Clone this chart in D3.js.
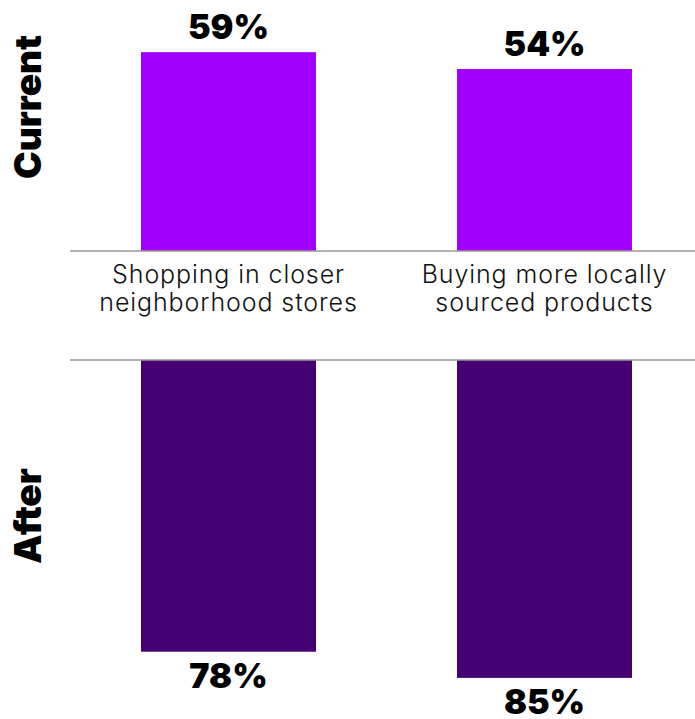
<!DOCTYPE html>
<html>
<head>
<meta charset="utf-8">
<script src="https://cdn.jsdelivr.net/npm/d3@7/dist/d3.min.js"></script>
<style>
  html, body { margin: 0; padding: 0; background: #fff; }
  svg { display: block; }
</style>
</head>
<body>
<svg id="chart" width="695" height="719"></svg>
<script>
// Share of respondents per behaviour, before and after
const categories = ["Shopping in closer neighborhood stores", "Buying more locally sourced products"];
const categoryLines = [["Shopping in closer", "neighborhood stores"], ["Buying more locally", "sourced products"]];
const currentValues = [59, 54];
const afterValues = [78, 85];
const panelTitles = ["Current", "After"];

const W = 695, H = 719;
const svg = d3.select("#chart");

const topBase = 251;
const bottomBase = 360;

const x = d3.scaleBand()
  .domain(categories)
  .range([70, 703])
  .paddingInner(0.4462)
  .paddingOuter(0.2247);

// Upper panel grows upward from its baseline
const yTop = d3.scaleLinear().domain([0, 100]).range([topBase, topBase - 337]);
// Lower panel grows downward from its baseline
const yBottom = d3.scaleLinear().domain([0, 100]).range([bottomBase, bottomBase + 374]);

const pctFont = "Inter, 'Liberation Sans', sans-serif";

// Current bars
svg.append("g").selectAll("rect")
  .data(currentValues)
  .join("rect")
  .attr("x", (d, i) => x(categories[i]))
  .attr("width", x.bandwidth())
  .attr("y", d => yTop(d))
  .attr("height", d => topBase - yTop(d))
  .attr("fill", "#A100FF");

svg.append("g").selectAll("text")
  .data(currentValues)
  .join("text")
  .attr("x", (d, i) => x(categories[i]) + x.bandwidth() / 2)
  .attr("y", d => yTop(d) - 13)
  .attr("text-anchor", "middle")
  .attr("font-family", pctFont)
  .attr("font-weight", 900)
  .attr("font-size", 34)
  .attr("fill", "#000")
  .text(d => d + "%");

// After bars
svg.append("g").selectAll("rect")
  .data(afterValues)
  .join("rect")
  .attr("x", (d, i) => x(categories[i]))
  .attr("width", x.bandwidth())
  .attr("y", bottomBase)
  .attr("height", d => yBottom(d) - bottomBase)
  .attr("fill", "#460073");

svg.append("g").selectAll("text")
  .data(afterValues)
  .join("text")
  .attr("x", (d, i) => x(categories[i]) + x.bandwidth() / 2)
  .attr("y", d => yBottom(d) + 36)
  .attr("text-anchor", "middle")
  .attr("font-family", pctFont)
  .attr("font-weight", 900)
  .attr("font-size", 34)
  .attr("fill", "#000")
  .text(d => d + "%");

// Baselines
[topBase, bottomBase].forEach(yy => {
  svg.append("line")
    .attr("x1", 70).attr("x2", W)
    .attr("y1", yy).attr("y2", yy)
    .attr("stroke", "#999")
    .attr("stroke-width", 1.5);
});

// Category labels between the two panels
const catG = svg.append("g").selectAll("text")
  .data(categories)
  .join("text")
  .attr("x", d => x(d) + x.bandwidth() / 2)
  .attr("y", 283)
  .attr("text-anchor", "middle")
  .attr("font-family", "Inter, 'Liberation Sans', sans-serif")
  .attr("font-weight", 300)
  .attr("font-size", 25)
  .attr("letter-spacing", 0.9)
  .attr("fill", "#111");

catG.each(function(d, i) {
  const t = d3.select(this);
  categoryLines[i].forEach((line, j) => {
    t.append("tspan")
      .attr("x", x(d) + x.bandwidth() / 2)
      .attr("dy", j === 0 ? 0 : 28)
      .text(line);
  });
});

// Panel titles, rotated
const titleY = [107, 516];
panelTitles.forEach((t, i) => {
  svg.append("text")
    .attr("transform", `translate(41,${titleY[i]}) rotate(-90)`)
    .attr("text-anchor", "middle")
    .attr("font-family", pctFont)
    .attr("font-weight", 900)
    .attr("font-size", 37)
    .attr("fill", "#000")
    .text(t);
});
</script>
</body>
</html>
